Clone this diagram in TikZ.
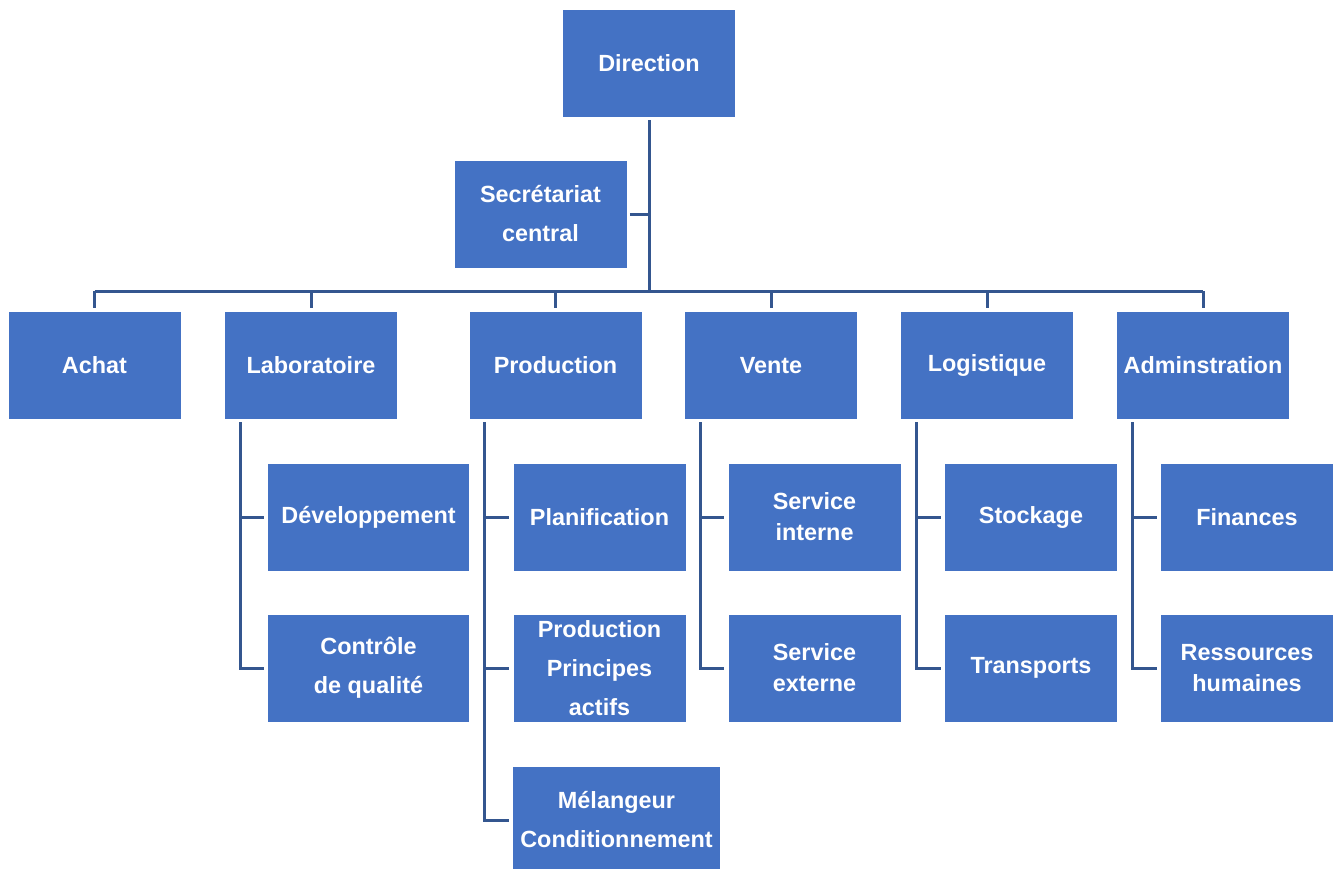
\documentclass[tikz,border=0pt]{standalone}
\usepackage{fontspec}
\setmainfont{Liberation Sans}
\usepackage{tikz}
\usetikzlibrary{calc}
\definecolor{boxblue}{HTML}{4472C4}
\definecolor{linkblue}{HTML}{34568F}

\tikzset{
  orgbox/.style={fill=boxblue, text=white, inner sep=0pt, align=center,
    minimum width=86pt, minimum height=53.5pt,
    font=\fontsize{11.7}{15.5}\selectfont\bfseries},
  link/.style={draw=linkblue, line width=1.5pt, shorten <=1.5pt, shorten >=2pt}
}

\begin{document}
\begin{tikzpicture}[x=0.5pt,y=-0.5pt]
\useasboundingbox (0,0) rectangle (1338,868);
\fill[white] (0,0) rectangle (1338,868);
% top
\node[orgbox] (dir) at (649,63.5) {Direction};
\node[orgbox] (sec) at (540.5,214) {Secrétariat\\[4pt]central};
\coordinate (bus) at (650,291);
% departements
\node[orgbox] (achat) at (94.5,365.5) {Achat};
\node[orgbox] (labo) at (311,365.5) {Laboratoire};
\node[orgbox] (prod) at (555.5,365.5) {Production};
\node[orgbox] (vente) at (771,365.5) {Vente};
\node[orgbox] (logi) at (987,365.5) {Logistique};
\node[orgbox] (adm) at (1203,365.5) {Adminstration};
% services
\node[orgbox,minimum width=100.5pt] (dev) at (368.5,517) {Développement};
\node[orgbox,minimum width=100.5pt] (ctrl) at (368.5,668) {Contrôle\\[4pt]de qualité};
\node[orgbox] (plan) at (599.5,517) {Planification};
\node[orgbox] (ppa) at (599.5,668) {Production\\[4pt]Principes\\[4pt]actifs};
\node[orgbox,minimum width=103.5pt] (melc) at (616.5,820) {Mélangeur\\[4pt]Conditionnement};
\node[orgbox] (sint) at (814.5,517) {Service\\interne};
\node[orgbox] (sext) at (814.5,668) {Service\\externe};
\node[orgbox] (stock) at (1031,517) {Stockage};
\node[orgbox] (trans) at (1031,668) {Transports};
\node[orgbox] (fin) at (1247,517) {Finances};
\node[orgbox] (rh) at (1247,668) {Ressources\\humaines};

% liaisons
\draw[link,shorten >=0pt] (dir.south) -- (dir.south |- bus);
\draw[link,shorten >=0pt] (sec.east) -- (sec.east -| bus);
\draw[draw=linkblue, line width=1.5pt] (achat.north |- bus) -- (adm.north |- bus);
\foreach \d in {achat,labo,prod,vente,logi,adm}
  \draw[link,shorten <=0pt] (\d.north |- bus) -- (\d.north);

\foreach \d/\a/\b in {labo/dev/ctrl,prod/plan/ppa,vente/sint/sext,logi/stock/trans,adm/fin/rh}{
  \coordinate (\d S) at ($(\d.south west)+(15.5,0)$);
  \draw[link] (\d S) |- (\a.west);
  \draw[link] (\d S) |- (\b.west);
}
\draw[link] (prodS) |- (melc.west);
\end{tikzpicture}
\end{document}
